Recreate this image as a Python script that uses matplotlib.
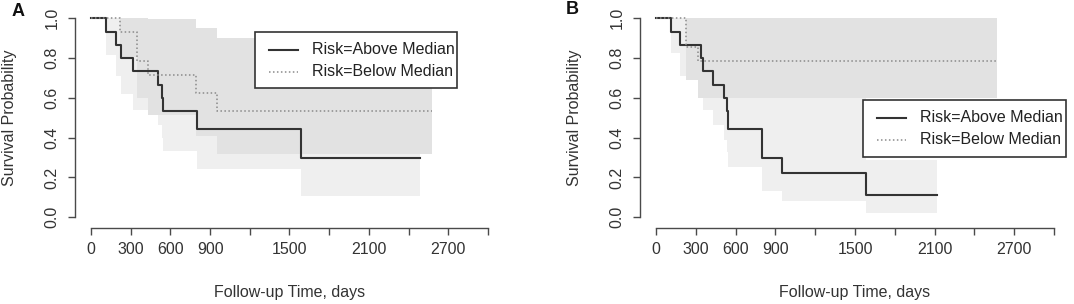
import matplotlib
matplotlib.use("Agg")
import matplotlib.pyplot as plt
from matplotlib.patches import Rectangle
from matplotlib.lines import Line2D

# ---------------- data ----------------
# Panel A
A_above_t  = [0, 111, 186, 227, 315, 504, 534, 541, 799, 1585, 2486]
A_above_s  = [1.0, 0.933, 0.867, 0.800, 0.733, 0.667, 0.600, 0.533, 0.444, 0.296, 0.296]
A_above_hi = [1.0, 1.0, 1.0, 1.0, 0.995, 0.954, 0.907, 0.856, 0.805, 0.800, 0.800]
A_above_lo = [1.0, 0.815, 0.711, 0.621, 0.540, 0.466, 0.397, 0.332, 0.245, 0.109, 0.109]

A_below_t  = [0, 219, 345, 433, 791, 950, 2574]
A_below_s  = [1.0, 0.929, 0.786, 0.714, 0.625, 0.536, 0.536]
A_below_hi = [1.0, 1.0, 1.0, 0.995, 0.953, 0.900, 0.900]
A_below_lo = [1.0, 0.803, 0.598, 0.513, 0.410, 0.319, 0.319]

# Panel B
B_above_t  = [0, 113, 181, 339, 357, 432, 512, 533, 546, 797, 952, 1581, 2117]
B_above_s  = [1.0, 0.933, 0.867, 0.800, 0.733, 0.667, 0.600, 0.533, 0.444, 0.296, 0.222, 0.111, 0.111]
B_above_hi = [1.0, 1.0, 1.0, 1.0, 0.995, 0.954, 0.907, 0.856, 0.805, 0.660, 0.620, 0.290, 0.290]
B_above_lo = [1.0, 0.824, 0.711, 0.621, 0.539, 0.463, 0.388, 0.330, 0.251, 0.132, 0.082, 0.023, 0.023]

B_below_t  = [0, 224, 318, 2568]
B_below_s  = [1.0, 0.857, 0.786, 0.786]
B_below_hi = [1.0, 1.0, 1.0, 1.0]
B_below_lo = [1.0, 0.692, 0.598, 0.598]

x_ticks = [0, 300, 600, 900, 1200, 1500, 1800, 2100, 2400, 2700, 3000]
x_tick_labels = ["0", "300", "600", "900", "", "1500", "", "2100", "", "2700", ""]
y_ticks = [0.0, 0.2, 0.4, 0.6, 0.8, 1.0]
y_tick_labels = ["0.0", "0.2", "0.4", "0.6", "0.8", "1.0"]
legend_labels = ["Risk=Above Median", "Risk=Below Median"]
panel_letters = ["A", "B"]
x_title = "Follow-up Time, days"
y_title = "Survival Probability"

# ---------------- styling ----------------
W, H = 1074, 304
DPI = 100
plt.rcParams["font.family"] = ["Liberation Sans", "DejaVu Sans"]
FS = 11.5
LIGHT = "#efefef"
DARK = "#e2e2e2"
LINE_SOLID = "#333333"
LINE_DOT = "#8a8a8a"
AX_COL = "#4a4a4a"
TXT = "#333333"

fig = plt.figure(figsize=(W / DPI, H / DPI), dpi=DPI)

def fx(px):
    return px / W

def fy(py):
    return (H - py) / H

XLIM = (-120, 3100)
YLIM = (-0.054, 1.04)

def make_axes(left_px, right_px):
    top_px = 10.34
    bot_px = 228.0
    ax = fig.add_axes([fx(left_px), fy(bot_px), (right_px - left_px) / W, (bot_px - top_px) / H])
    ax.set_xlim(*XLIM)
    ax.set_ylim(*YLIM)
    ax.set_facecolor("none")
    for s in ["top", "right"]:
        ax.spines[s].set_visible(False)
    for s in ["left", "bottom"]:
        ax.spines[s].set_color(AX_COL)
        ax.spines[s].set_linewidth(1.0)
    ax.spines["left"].set_bounds(0, 1)
    ax.spines["bottom"].set_bounds(0, 3000)
    ax.set_xticks(x_ticks)
    ax.set_xticklabels(x_tick_labels)
    ax.set_yticks(y_ticks)
    ax.set_yticklabels(y_tick_labels, rotation=90, va="center")
    ax.tick_params(axis="both", direction="out", length=5, width=1.0, color=AX_COL,
                   labelsize=FS, labelcolor=TXT)
    ax.tick_params(axis="x", pad=5)
    ax.tick_params(axis="y", pad=6)
    return ax

def draw_panel(ax, above, below):
    t1, s1, hi1, lo1 = above
    t2, s2, hi2, lo2 = below
    ax.fill_between(t1, lo1, hi1, step="post", color=LIGHT, lw=0, zorder=1)
    ax.fill_between(t2, lo2, hi2, step="post", color=DARK, lw=0, zorder=2)
    ax.step(t1, s1, where="post", color=LINE_SOLID, lw=1.5, zorder=4)
    ax.step(t2, s2, where="post", color=LINE_DOT, lw=1.1, ls=(0, (1, 1.6)), zorder=5)

def draw_legend(x0, y0, x1, y1):
    fig.add_artist(Rectangle((fx(x0), fy(y1)), (x1 - x0) / W, (y1 - y0) / H,
                             transform=fig.transFigure, facecolor="white",
                             edgecolor="#333333", lw=1.2, zorder=10))
    rows = [y0 + 18, y0 + 40]
    styles = [dict(color=LINE_SOLID, lw=1.5, ls="-"),
              dict(color=LINE_DOT, lw=1.1, ls=(0, (1, 1.6)))]
    for ry, st, lab in zip(rows, styles, legend_labels):
        fig.add_artist(Line2D([fx(x0 + 14), fx(x0 + 43)], [fy(ry), fy(ry)],
                              transform=fig.transFigure, zorder=11, **st))
        fig.text(fx(x0 + 57), fy(ry), lab, fontsize=FS, color="#222222",
                 ha="left", va="center", zorder=11)

# Panel A
axA = make_axes(75.1, 501.2)
draw_panel(axA, (A_above_t, A_above_s, A_above_hi, A_above_lo),
           (A_below_t, A_below_s, A_below_hi, A_below_lo))
draw_legend(255, 32, 457, 88)

# Panel B
axB = make_axes(640.1, 1067.3)
draw_panel(axB, (B_above_t, B_above_s, B_above_hi, B_above_lo),
           (B_below_t, B_below_s, B_below_hi, B_below_lo))
draw_legend(863, 100, 1066, 157)

# titles / letters
for cx, lx in [(289.5, 10), (855, 575)]:
    fig.text(fx(cx), fy(292), x_title, fontsize=FS, color=TXT, ha="center", va="center")
    fig.text(fx(lx), fy(118), y_title, fontsize=FS, color=TXT, ha="center", va="center",
             rotation=90)
fig.text(fx(18.5), fy(11), panel_letters[0], fontsize=13, fontweight="bold",
         ha="center", va="center", color="#111111")
fig.text(fx(572.5), fy(10), panel_letters[1], fontsize=13, fontweight="bold",
         ha="center", va="center", color="#111111")

fig.savefig("out.png", dpi=DPI)
